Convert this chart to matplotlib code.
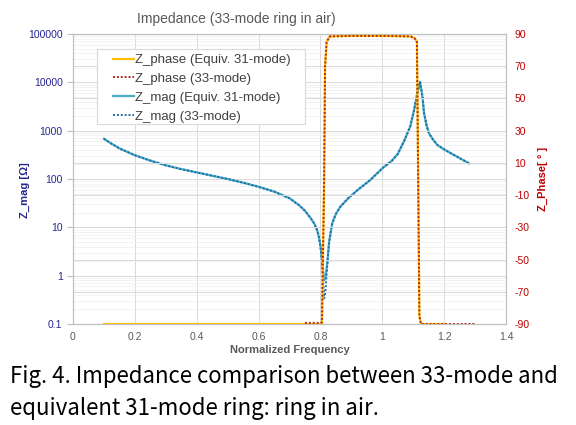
import matplotlib
matplotlib.use('Agg')
import matplotlib.pyplot as plt
from matplotlib.patches import Rectangle
from matplotlib.ticker import FixedLocator, NullFormatter, LogLocator

plt.rcParams['font.family'] = ['Liberation Sans', 'DejaVu Sans']
plt.rcParams['axes.unicode_minus'] = False

# Z_mag, equivalent 31-mode (solid)
freq_mag = [0.10, 0.12, 0.15, 0.20, 0.25, 0.30, 0.35, 0.40, 0.45, 0.50,
            0.55, 0.60, 0.65, 0.70, 0.73, 0.75, 0.77, 0.78, 0.79, 0.795,
            0.80, 0.803, 0.808, 0.812, 0.816, 0.822, 0.828, 0.838, 0.85, 0.865,
            0.89, 0.92, 0.96, 1.00, 1.03, 1.05, 1.07, 1.09, 1.103, 1.113,
            1.122, 1.130, 1.135, 1.143, 1.151, 1.165, 1.179, 1.20, 1.222, 1.25,
            1.281]
mag31 = [680, 560, 430, 310, 240, 192, 160, 137, 117, 100,
         84, 69, 55, 40, 29, 22, 15, 12, 8.5, 6.3,
         4.2, 2.9, 1.3, 0.8, 0.9, 1.8, 5.0, 12, 19, 27,
         40, 59, 94, 166, 235, 330, 600, 1200, 2700, 5900,
         10200, 5000, 2300, 1300, 880, 640, 500, 410, 340, 270,
         210]
# Z_mag, 33-mode (dotted)
mag33 = [680, 560, 430, 310, 240, 192, 160, 137, 117, 100,
         84, 69, 55, 40, 29, 22, 15, 12, 8.5, 6.3,
         4.0, 2.6, 0.9, 0.34, 0.45, 1.6, 4.8, 12, 19, 27,
         40, 59, 94, 166, 235, 330, 600, 1200, 2700, 5900,
         10400, 5000, 2300, 1300, 880, 640, 500, 410, 340, 270,
         210]

# Z_phase
freq_ph31 = [0.10, 0.75, 0.805, 0.812, 0.815, 0.82, 0.83, 0.90, 1.00, 1.092,
             1.105, 1.112, 1.116, 1.12, 1.125, 1.20]
ph31 = [-90, -90, -90, 0, 70, 85, 88.5, 88.8, 88.8, 88.5,
        87.3, 85, 0, -85, -90, -90]
freq_ph33 = [0.75, 0.80, 0.805, 0.812, 0.815, 0.82, 0.83, 0.90, 1.00, 1.092,
             1.105, 1.112, 1.116, 1.12, 1.125, 1.30]
ph33 = [-89.3, -89.3, -89, 0, 70, 85, 88.5, 88.8, 88.8, 88.5,
        87.3, 85, 0, -85, -90, -90]

mag_ticks = [0.1, 1, 10, 100, 1000, 10000, 100000]
mag_labels = ['0.1', '1', '10', '100', '1000', '10000', '100000']
ph_ticks = [-90, -70, -50, -30, -10, 10, 30, 50, 70, 90]
x_ticks = [0, 0.2, 0.4, 0.6, 0.8, 1, 1.2, 1.4]
x_labels = ['0', '0.2', '0.4', '0.6', '0.8', '1', '1.2', '1.4']
legend_labels = ['Z_phase (Equiv. 31-mode)', 'Z_phase (33-mode)',
                 'Z_mag (Equiv. 31-mode)', 'Z_mag (33-mode)']

navy = '#26268f'
red = '#c00000'
grid_c = '#d9d9d9'

fig = plt.figure(figsize=(5.76, 4.25), dpi=100)
ax = fig.add_axes([73/576, 1 - 324/425, 433/576, 290/425])
ax2 = ax.twinx()

l3, = ax.plot(freq_mag, mag31, color='#4bacc6', lw=1.6, zorder=3)
l4, = ax.plot(freq_mag, mag33, color='#1f6fa8', lw=1.4, ls=(0, (1, 1)), zorder=4)
l1, = ax2.plot(freq_ph31, ph31, color='#ffc000', lw=1.6, zorder=3)
l2, = ax2.plot(freq_ph33, ph33, color='#b5271e', lw=1.4, ls=(0, (1, 1)), zorder=4)

ax.set_yscale('log')
ax.set_ylim(0.1, 100000)
ax.set_xlim(0, 1.4)
ax.yaxis.set_major_locator(FixedLocator(mag_ticks))
ax.set_yticklabels(mag_labels)
ax.yaxis.set_minor_locator(LogLocator(base=10, subs=range(2, 10), numticks=20))
ax.yaxis.set_minor_formatter(NullFormatter())
ax.set_xticks(x_ticks)
ax.set_xticklabels(x_labels)

ax2.set_ylim(-90, 90)
ax2.set_yticks(ph_ticks)

ax.grid(True, which='major', color=grid_c, lw=0.7)
ax.grid(True, which='minor', axis='y', color='#efefef', lw=0.5)
ax2.grid(True, which='major', axis='y', color=grid_c, lw=0.7)
ax.set_axisbelow(True)

for a in (ax, ax2):
    for s in a.spines.values():
        s.set_color('#bfbfbf')
        s.set_linewidth(0.8)

ax.tick_params(axis='y', which='major', colors='#bfbfbf', length=4, labelcolor=navy, labelsize=7.5)
ax.tick_params(axis='y', which='minor', length=0)
ax.tick_params(axis='x', length=0, labelcolor='#595959', labelsize=7.5, pad=6)
ax2.tick_params(axis='y', length=0, labelcolor=red, labelsize=7.5, pad=6)

ax.set_ylabel('Z_mag [Ω]', color=navy, fontsize=8, fontweight='bold')
ax.yaxis.set_label_coords(-0.099, 0.46)
ax2.set_ylabel('Z_Phase[ ° ]', color=red, fontsize=8, fontweight='bold', rotation=90)
ax2.yaxis.set_label_coords(1.074, 0.5)
ax.set_xlabel('Normalized Frequency', color='#595959', fontsize=8, fontweight='bold', labelpad=2)

fig.text(236/576, 1 - 19/425, 'Impedance (33-mode ring in air)', ha='center', va='center',
         color='#595959', fontsize=10)

# legend box drawn separately so the padding matches the Excel look
ax2.add_patch(Rectangle((0.0554, 0.69), 0.48, 0.259, transform=ax2.transAxes,
                        facecolor='white', edgecolor='#d9d9d9', lw=0.8, zorder=4.5))
ax2.legend([l1, l2, l3, l4], legend_labels,
           loc='upper left', bbox_to_anchor=(0.0924, 0.931), borderaxespad=0,
           borderpad=0, frameon=False, fontsize=9.5,
           handlelength=1.6, handletextpad=0.1, labelspacing=0.5,
           labelcolor='#404040')

cap_font = ['Noto Sans CJK KR', 'DejaVu Sans']
fig.text(10/576, 1 - 376/425, 'Fig. 4. Impedance comparison between 33-mode and',
         ha='left', va='center', fontsize=16, color='black', family=cap_font)
fig.text(10/576, 1 - 408/425, 'equivalent 31-mode ring: ring in air.',
         ha='left', va='center', fontsize=16, color='black', family=cap_font)

fig.savefig('out.png', dpi=100)
